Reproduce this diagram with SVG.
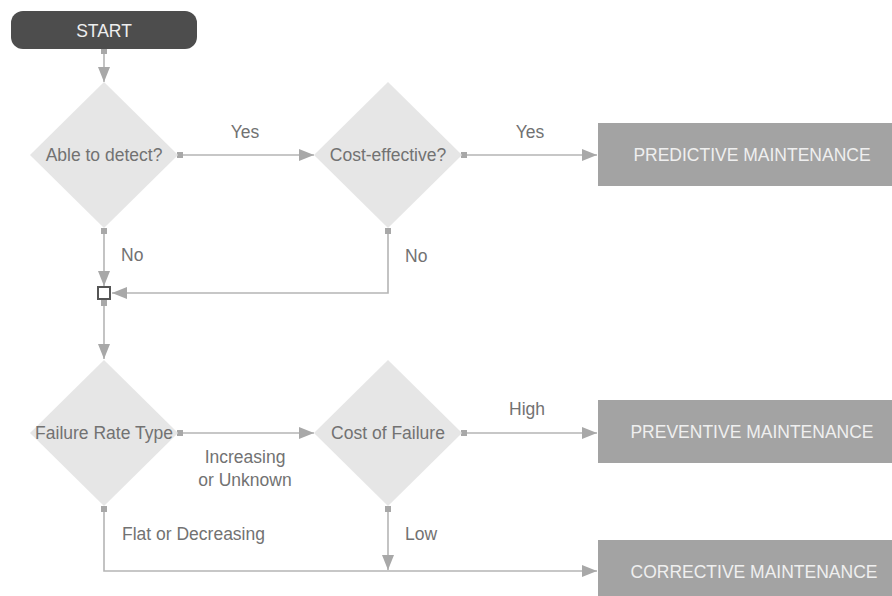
<svg xmlns="http://www.w3.org/2000/svg" width="892" height="596" viewBox="0 0 892 596">
<style>
  text { font-family: "Liberation Sans", Arial, sans-serif; font-size: 17.5px; dominant-baseline: central; }
  .lbl { fill: #727272; }
  .dtext { fill: #727272; text-anchor: middle; }
  .btext { fill: #efefef; text-anchor: middle; }
  .diamond { fill: #e6e6e6; }
  .box { fill: #a3a3a3; }
  .conn { fill: none; stroke: #b5b5b5; stroke-width: 1.6; marker-start: url(#sq); marker-end: url(#arr); }
</style>
<defs>
  <marker id="arr" markerUnits="userSpaceOnUse" markerWidth="16" markerHeight="14" refX="15" refY="6" orient="auto">
    <path d="M0,0 L15,6 L0,12 z" fill="#a8a8a8"/>
  </marker>
  <marker id="sq" markerUnits="userSpaceOnUse" markerWidth="8" markerHeight="8" refX="3" refY="3" orient="auto">
    <rect x="0" y="0" width="6" height="6" fill="#a8a8a8"/>
  </marker>
</defs>
<rect width="892" height="596" fill="#ffffff"/>

<g id="connectors">
  <path class="conn" d="M104,51 L104,82"/>
  <path class="conn" d="M180,155 L314,155"/>
  <path class="conn" d="M464,155 L597,155"/>
  <path class="conn" d="M104,231 L104,286"/>
  <path class="conn" d="M388,231 L388,293 L112,293"/>
  <path class="conn" d="M104,303 L104,359"/>
  <path class="conn" d="M180,433 L314,433"/>
  <path class="conn" d="M464,433 L597,433"/>
  <path class="conn" d="M104,509 L104,571 L597,571"/>
  <path class="conn" d="M388,509 L388,570"/>
  <text class="lbl" x="245" y="132" text-anchor="middle">Yes</text>
  <text class="lbl" x="530" y="132" text-anchor="middle">Yes</text>
  <text class="lbl" x="121" y="255">No</text>
  <text class="lbl" x="405" y="256">No</text>
  <text class="lbl" x="509" y="409">High</text>
  <text class="lbl" x="245" y="457" text-anchor="middle">Increasing</text>
  <text class="lbl" x="245" y="480" text-anchor="middle">or Unknown</text>
  <text class="lbl" x="122" y="534">Flat or Decreasing</text>
  <text class="lbl" x="405" y="534">Low</text>
</g>

<g id="start">
  <rect x="11" y="11" width="186" height="38" rx="12" fill="#4d4d4d"/>
  <text x="104" y="31" fill="#eeeeee" text-anchor="middle">START</text>
</g>

<g id="able-to-detect">
  <polygon class="diamond" points="104,82 178,155 104,228 30,155"/>
  <text class="dtext" x="104" y="155">Able to detect?</text>
</g>

<g id="cost-effective">
  <polygon class="diamond" points="388,82 462,155 388,228 314,155"/>
  <text class="dtext" x="388" y="155">Cost-effective?</text>
</g>

<g id="junction">
  <rect x="98" y="287" width="12" height="12" fill="#ffffff" stroke="#555555" stroke-width="2"/>
</g>

<g id="failure-rate-type">
  <polygon class="diamond" points="104,360 178,433 104,506 30,433"/>
  <text class="dtext" x="104" y="433">Failure Rate Type</text>
</g>

<g id="cost-of-failure">
  <polygon class="diamond" points="388,360 462,433 388,506 314,433"/>
  <text class="dtext" x="388" y="433">Cost of Failure</text>
</g>

<g id="predictive">
  <rect class="box" x="598" y="123" width="310" height="63"/>
  <text class="btext" x="752" y="155">PREDICTIVE MAINTENANCE</text>
</g>

<g id="preventive">
  <rect class="box" x="598" y="400" width="310" height="63"/>
  <text class="btext" x="752" y="432">PREVENTIVE MAINTENANCE</text>
</g>

<g id="corrective">
  <rect class="box" x="598" y="540" width="310" height="63"/>
  <text class="btext" x="754" y="572">CORRECTIVE MAINTENANCE</text>
</g>
</svg>
